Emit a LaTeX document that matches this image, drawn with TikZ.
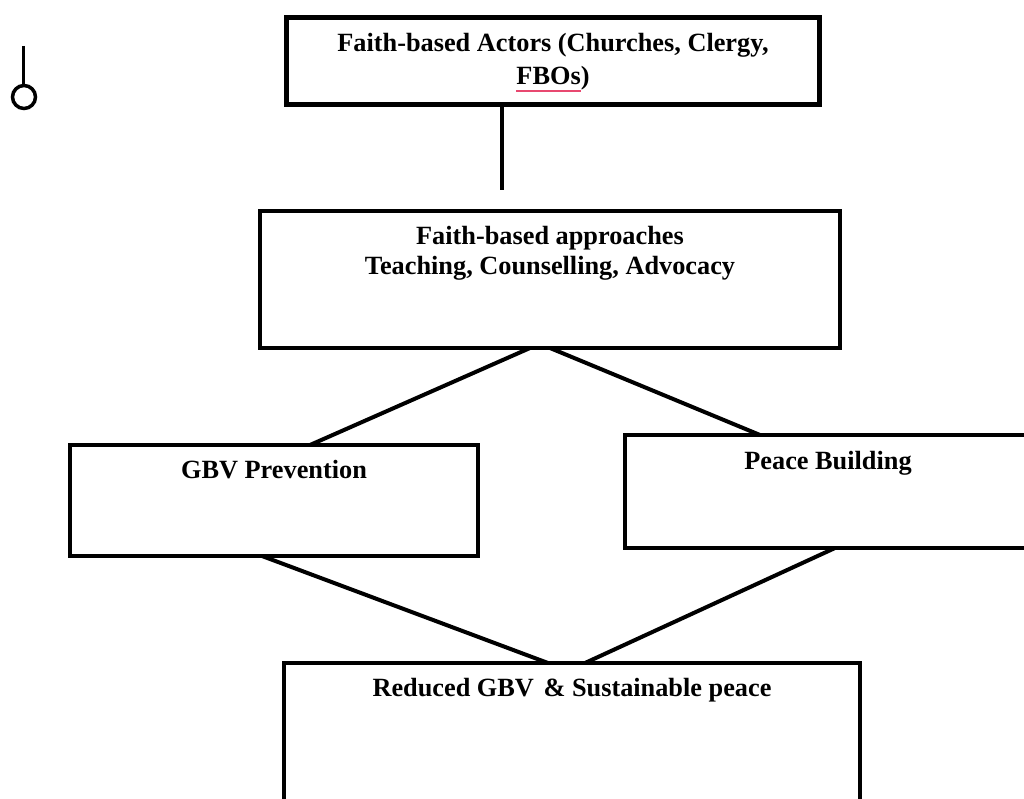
\documentclass[tikz,border=0pt]{standalone}
\usepackage{fontspec}
\setmainfont{Liberation Serif}
\usetikzlibrary{positioning}
\definecolor{squiggle}{RGB}{232,72,112}
\newsavebox\spellbox
\newcommand\spellmark[1]{\sbox\spellbox{#1}\rlap{\color{squiggle}\rule[-7.5pt]{\wd\spellbox}{2pt}}\usebox\spellbox}
\tikzset{
  stage/.style={draw, line width=4pt, inner sep=0pt, outer sep=0pt, anchor=north west},
  heading/.style={font=\bfseries\fontsize{26.3}{30}\selectfont, align=center, anchor=north, inner sep=0pt},
  link/.style={line width=4pt}
}
\begin{document}
\begin{tikzpicture}[x=1pt,y=-1pt]
  \useasboundingbox (0,0) rectangle (1024,799);
  \clip (0,0) rectangle (1024,799);
  \fill[white] (0,0) rectangle (1024,799);

  \node (actors)     at (286.5,17.5) [stage, line width=5pt, minimum width=533pt, minimum height=87pt] {};
  \node (approaches) at (260,211)    [stage, line width=3.5pt, minimum width=580pt, minimum height=137pt] {};
  \node (gbv)        at (70,445)     [stage, minimum width=408pt, minimum height=111pt] {};
  \node (peace)      at (625,435)    [stage, minimum width=406pt, minimum height=113pt] {};
  \node (outcome)    at (284,663)    [stage, minimum width=576pt, minimum height=177pt] {};

  \node (actorstext)     [heading, font=\bfseries\fontsize{26.3}{32.3}\selectfont, below=16pt of actors.north] {Faith-based Actors (Churches, Clergy,\\\spellmark{FBOs})};
  \node (approachestext) [heading, below=15pt of approaches.north] {Faith-based approaches\\Teaching, Counselling, Advocacy};
  \node (gbvtext)        [heading, below=15pt of gbv.north] {GBV Prevention};
  \node (peacetext)      [heading, below=16pt of peace.north] {Peace Building};
  \node (outcometext)    [heading, below=15pt of outcome.north] {Reduced GBV\hspace{3pt} \& Sustainable peace};

  \coordinate (stemend) at (502,190);
  \draw[link] ([xshift=-51pt]actors.south) -- (stemend);
  \draw[link] ([xshift=-20pt]approaches.south) -- ([xshift=36pt]gbv.north);
  \draw[link] (approaches.south) -- ([xshift=-68pt]peace.north);
  \draw[link] ([xshift=-12pt]gbv.south) -- ([xshift=-24pt]outcome.north);
  \draw[link] ([xshift=7pt]peace.south) -- ([xshift=13pt]outcome.north);

  \draw[line width=3.5pt] (23.5,46) -- (23.5,85);
  \draw[line width=3.5pt] (24,97) circle[radius=11.5pt];
\end{tikzpicture}
\end{document}
